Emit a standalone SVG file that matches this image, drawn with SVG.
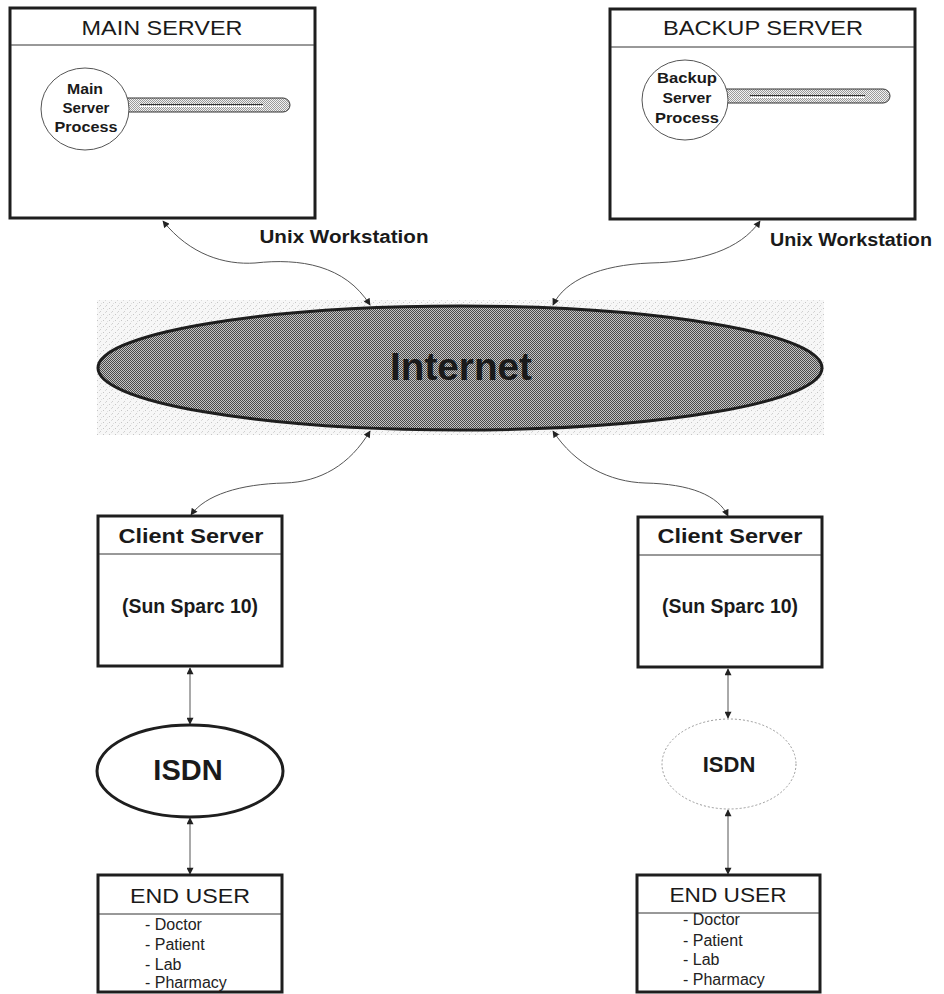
<svg xmlns="http://www.w3.org/2000/svg" width="944" height="994" viewBox="0 0 944 994">
  <style>
    .box { fill: #fff; stroke: #1e1e1e; stroke-width: 3; }
    .div { stroke: #333; stroke-width: 1; }
    .conn { fill: none; stroke: #555; stroke-width: 1; marker-start: url(#arr); marker-end: url(#arr); }
    .t { font-family: "Liberation Sans", Arial, sans-serif; fill: #1a1a1a; text-anchor: middle; }
    .b { font-weight: bold; }
    .lst { font-family: "Liberation Sans", Arial, sans-serif; fill: #222; font-size: 16px; }
  </style>
  <defs>
    <marker id="arr" viewBox="0 0 10 10" refX="9" refY="5" markerWidth="8" markerHeight="7" markerUnits="userSpaceOnUse" orient="auto-start-reverse">
      <path d="M0,0 L10,5 L0,10 z" fill="#222"/>
    </marker>
    <pattern id="checker" width="2" height="2" patternUnits="userSpaceOnUse">
      <rect width="2" height="2" fill="#c4c4c4"/>
      <rect width="1" height="1" fill="#4a4a4a"/>
      <rect x="1" y="1" width="1" height="1" fill="#4a4a4a"/>
    </pattern>
    <pattern id="speckle" width="6" height="6" patternUnits="userSpaceOnUse">
      <rect width="6" height="6" fill="#f7f7f7"/>
      <rect x="1" y="2" width="1" height="1" fill="#c6c6c6"/>
      <rect x="4" y="5" width="1" height="1" fill="#cfcfcf"/>
      <rect x="3" y="0" width="1" height="1" fill="#dadada"/>
      <rect x="5" y="3" width="1" height="1" fill="#e0e0e0"/>
    </pattern>
    <pattern id="dots" width="2" height="2" patternUnits="userSpaceOnUse">
      <rect width="2" height="2" fill="#f2f2f2"/>
      <rect width="1" height="1" fill="#9a9a9a"/>
      <rect x="1" y="1" width="1" height="1" fill="#9a9a9a"/>
    </pattern>
  </defs>

  <!-- Main server -->
  <g id="main-server">
    <rect class="box" x="10" y="8" width="305" height="210"/>
    <line class="div" x1="11" y1="45" x2="314" y2="45"/>
    <text class="t" x="162" y="35" font-size="21" textLength="161" lengthAdjust="spacingAndGlyphs">MAIN SERVER</text>
    <path d="M125,98 H283 A7,7 0 0 1 283,112 H125 Z" fill="url(#dots)" stroke="#333" stroke-width="1"/>
    <line x1="140" y1="104.5" x2="263" y2="104.5" stroke="#333" stroke-width="1"/>
    <line x1="140" y1="106.5" x2="263" y2="106.5" stroke="#fff" stroke-width="1"/>
    <ellipse cx="85" cy="109" rx="44" ry="41" fill="#fff" stroke="#555" stroke-width="1"/>
    <text class="t b" x="85" y="94" font-size="15" textLength="36" lengthAdjust="spacingAndGlyphs">Main</text>
    <text class="t b" x="86" y="113" font-size="15" textLength="47" lengthAdjust="spacingAndGlyphs">Server</text>
    <text class="t b" x="86" y="132" font-size="15" textLength="63" lengthAdjust="spacingAndGlyphs">Process</text>
  </g>

  <!-- Backup server -->
  <g id="backup-server">
    <rect class="box" x="610" y="9" width="305" height="210"/>
    <line class="div" x1="611" y1="47" x2="914" y2="47"/>
    <text class="t" x="763" y="35" font-size="21" textLength="200" lengthAdjust="spacingAndGlyphs">BACKUP SERVER</text>
    <path d="M720,89 H883 A7,7 0 0 1 883,103 H720 Z" fill="url(#dots)" stroke="#333" stroke-width="1"/>
    <line x1="750" y1="95.5" x2="865" y2="95.5" stroke="#333" stroke-width="1"/>
    <line x1="750" y1="97.5" x2="865" y2="97.5" stroke="#fff" stroke-width="1"/>
    <ellipse cx="685" cy="100" rx="43" ry="40" fill="#fff" stroke="#555" stroke-width="1"/>
    <text class="t b" x="687" y="83" font-size="15" textLength="60" lengthAdjust="spacingAndGlyphs">Backup</text>
    <text class="t b" x="687" y="103" font-size="15" textLength="49" lengthAdjust="spacingAndGlyphs">Server</text>
    <text class="t b" x="687" y="123" font-size="15" textLength="64" lengthAdjust="spacingAndGlyphs">Process</text>
  </g>

  <!-- Labels -->
  <g id="label-unix-left">
    <text class="t b" x="344" y="243" font-size="17.5" textLength="169" lengthAdjust="spacingAndGlyphs">Unix Workstation</text>
  </g>
  <g id="label-unix-right">
    <text class="t b" x="851" y="246" font-size="17.5" textLength="162" lengthAdjust="spacingAndGlyphs">Unix Workstation</text>
  </g>

  <!-- Internet -->
  <g id="internet">
    <rect x="97" y="300" width="727" height="135" fill="url(#speckle)"/>
    <ellipse cx="460" cy="368" rx="362" ry="62" fill="url(#checker)" stroke="#1e1e1e" stroke-width="3"/>
    <text class="t b" x="461" y="380" font-size="38" fill="#222" textLength="142" lengthAdjust="spacingAndGlyphs">Internet</text>
  </g>

  <!-- Client servers -->
  <g id="client-server-left">
    <rect class="box" x="98" y="516" width="184" height="150"/>
    <line class="div" x1="99" y1="554" x2="281" y2="554"/>
    <text class="t b" x="191" y="543" font-size="20.5" textLength="145" lengthAdjust="spacingAndGlyphs">Client Server</text>
    <text class="t b" x="190" y="613" font-size="19.5" textLength="136" lengthAdjust="spacingAndGlyphs">(Sun Sparc 10)</text>
  </g>
  <g id="client-server-right">
    <rect class="box" x="638" y="517" width="184" height="150"/>
    <line class="div" x1="639" y1="555" x2="821" y2="555"/>
    <text class="t b" x="730" y="543" font-size="20.5" textLength="145" lengthAdjust="spacingAndGlyphs">Client Server</text>
    <text class="t b" x="730" y="613" font-size="19.5" textLength="136" lengthAdjust="spacingAndGlyphs">(Sun Sparc 10)</text>
  </g>

  <!-- ISDN -->
  <g id="isdn-left">
    <ellipse cx="190" cy="771" rx="93" ry="46" fill="#fff" stroke="#1e1e1e" stroke-width="3"/>
    <text class="t b" x="188" y="780" font-size="29">ISDN</text>
  </g>
  <g id="isdn-right">
    <ellipse cx="729" cy="764" rx="67" ry="45" fill="#fff" stroke="#9a9a9a" stroke-width="1" stroke-dasharray="2,2"/>
    <text class="t b" x="729" y="772" font-size="22">ISDN</text>
  </g>

  <!-- End users -->
  <g id="end-user-left">
    <rect class="box" x="98" y="875" width="184" height="117"/>
    <line class="div" x1="99" y1="914" x2="281" y2="914"/>
    <text class="t" x="190" y="903" font-size="20" textLength="120" lengthAdjust="spacingAndGlyphs">END USER</text>
    <text class="lst" x="145" y="930">- Doctor</text>
    <text class="lst" x="145" y="950">- Patient</text>
    <text class="lst" x="145" y="970">- Lab</text>
    <text class="lst" x="145" y="988">- Pharmacy</text>
  </g>
  <g id="end-user-right">
    <rect class="box" x="637" y="875" width="183" height="117"/>
    <line class="div" x1="638" y1="913" x2="819" y2="913"/>
    <text class="t" x="728" y="902" font-size="20" textLength="117" lengthAdjust="spacingAndGlyphs">END USER</text>
    <text class="lst" x="683" y="925">- Doctor</text>
    <text class="lst" x="683" y="946">- Patient</text>
    <text class="lst" x="683" y="965">- Lab</text>
    <text class="lst" x="683" y="985">- Pharmacy</text>
  </g>

  <!-- Connectors -->
  <g id="connectors">
    <path class="conn" d="M163,221 C190,255 225,265 255,263 C300,258 345,265 370,305"/>
    <path class="conn" d="M760,221 C740,250 700,262 650,263 C600,265 565,280 553,305"/>
    <path class="conn" d="M370,431 C350,465 320,482 285,483 C240,484 205,495 191,515"/>
    <path class="conn" d="M553,431 C575,465 610,482 645,483 C690,484 718,495 728,516"/>
    <path class="conn" d="M190,668 V724"/>
    <path class="conn" d="M190,818 V874"/>
    <path class="conn" d="M728,669 V718"/>
    <path class="conn" d="M728,810 V874"/>
  </g>
</svg>
